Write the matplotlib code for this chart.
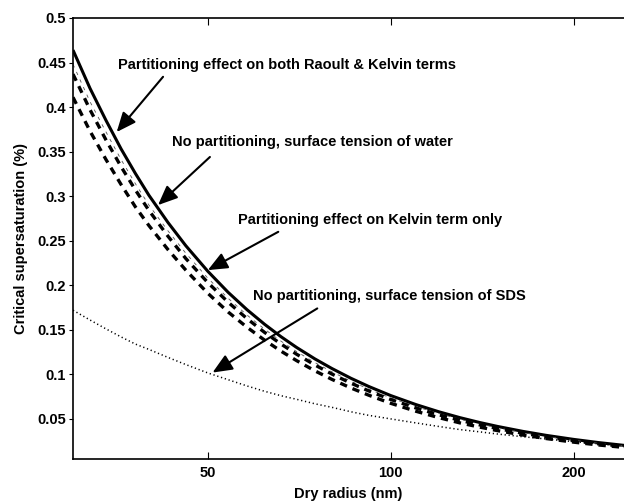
import numpy as np
import matplotlib
matplotlib.use("Agg")
from matplotlib import pyplot as plt
from matplotlib.ticker import FixedLocator, FixedFormatter, NullLocator

plt.rcParams['font.family'] = ['Liberation Sans', 'DejaVu Sans']
plt.rcParams['font.weight'] = 'bold'

# dry radius (nm)
radius = [30, 32, 34, 36, 38, 40, 43, 46, 50, 54, 58, 62, 66, 70, 75, 80, 86, 92,
          100, 110, 120, 130, 140, 150, 165, 180, 200, 220, 242]

# partitioning effect on both Raoult & Kelvin terms
s_both = [0.464, 0.421, 0.385, 0.353, 0.3255, 0.301, 0.2704, 0.2444, 0.2157, 0.1921,
          0.1726, 0.1562, 0.1422, 0.1302, 0.1174, 0.1066, 0.0956, 0.0864, 0.0762,
          0.0661, 0.0580, 0.0514, 0.0460, 0.0415, 0.0360, 0.0316, 0.0270, 0.0234, 0.0203]
# no partitioning, surface tension of water
s_water = [0.448, 0.406, 0.372, 0.341, 0.314, 0.290, 0.261, 0.236, 0.208, 0.1854,
           0.1666, 0.1507, 0.1372, 0.1256, 0.1133, 0.1029, 0.0923, 0.0834, 0.0735,
           0.0638, 0.0560, 0.0496, 0.0444, 0.0400, 0.0347, 0.0305, 0.0261, 0.0226, 0.0196]
# partitioning effect on Kelvin term only
s_kelvin = [0.437, 0.397, 0.363, 0.333, 0.307, 0.284, 0.255, 0.230, 0.203, 0.181,
            0.1626, 0.1471, 0.1340, 0.1226, 0.1106, 0.1004, 0.0901, 0.0814, 0.0718,
            0.0623, 0.0546, 0.0484, 0.0433, 0.0391, 0.0339, 0.0298, 0.0254, 0.0220, 0.0191]
s_kelvin2 = [0.411, 0.373, 0.341, 0.313, 0.288, 0.267, 0.240, 0.217, 0.191, 0.170,
             0.1529, 0.1384, 0.1260, 0.1154, 0.1040, 0.0944, 0.0847, 0.0766, 0.0675,
             0.0586, 0.0514, 0.0455, 0.0408, 0.0368, 0.0319, 0.0280, 0.0239, 0.0207, 0.0180]
# no partitioning, surface tension of SDS
s_sds = [0.172, 0.161, 0.151, 0.142, 0.134, 0.128, 0.119, 0.111, 0.1016, 0.094,
         0.087, 0.081, 0.076, 0.072, 0.067, 0.063, 0.058, 0.054, 0.050,
         0.0455, 0.0415, 0.038, 0.0355, 0.033, 0.030, 0.0275, 0.0245, 0.022, 0.0195]

labels = ["Partitioning effect on both Raoult & Kelvin terms",
          "No partitioning, surface tension of water",
          "Partitioning effect on Kelvin term only",
          "No partitioning, surface tension of SDS"]

yticks = [0.05, 0.1, 0.15, 0.2, 0.25, 0.3, 0.35, 0.4, 0.45, 0.5]
yticklabels = ["0.05", "0.1", "0.15", "0.2", "0.25", "0.3", "0.35", "0.4", "0.45", "0.5"]
xticks = [50, 100, 200]

fig = plt.figure(figsize=(6.24, 5.04), dpi=100)
ax = fig.add_axes([73/624, 45/504, 551/624, 441/504])

ax.plot(radius, s_both, color='black', lw=2.2, solid_capstyle='butt')
ax.plot(radius, s_water, color='#555555', lw=0.6, linestyle=(0, (4, 6)))
ax.plot(radius, s_kelvin, color='black', lw=2.4, linestyle=(0, (2.2, 1.8)))
ax.plot(radius, s_kelvin2, color='black', lw=2.4, linestyle=(0, (2.2, 1.8)))
ax.plot(radius, s_sds, color='black', lw=1.1, linestyle=(0, (0.8, 1.8)))

ax.set_xscale('log')
ax.set_xlim(30, 242)
ax.set_ylim(0.005, 0.5)
ax.xaxis.set_major_locator(FixedLocator(xticks))
ax.xaxis.set_major_formatter(FixedFormatter([str(t) for t in xticks]))
ax.xaxis.set_minor_locator(NullLocator())
ax.set_yticks(yticks)
ax.set_yticklabels(yticklabels)

ax.tick_params(axis='x', direction='in', length=5, width=0.8, top=True, labelsize=10.5, pad=5)
ax.tick_params(axis='y', direction='out', length=3, width=0.8, labelsize=10.5, pad=2)
for sp in ['left', 'bottom', 'top']:
    ax.spines[sp].set_linewidth(1.2)
ax.spines['right'].set_visible(False)

ax.set_xlabel("Dry radius (nm)", fontsize=10.5, fontweight='bold', labelpad=5)
ax.set_ylabel("Critical supersaturation (%)", fontsize=10.5, fontweight='bold', labelpad=7)

# annotations: text anchor, arrow tail, arrow tip
text_pos = [(35.6, 0.447), (43.7, 0.361), (56.1, 0.273), (59.4, 0.188)]
tails = [(42.2, 0.434), (50.4, 0.344), (65.3, 0.260), (75.7, 0.174)]
tips = [(35.4, 0.372), (41.4, 0.290), (50.0, 0.217), (50.9, 0.102)]

for lab, tp, tl, tip in zip(labels, text_pos, tails, tips):
    ax.text(tp[0], tp[1], lab, fontsize=10.5, fontweight='bold', va='center', ha='left')
    ax.annotate('', xy=tip, xytext=tl,
                arrowprops=dict(arrowstyle='-|>,head_length=0.7,head_width=0.3',
                                color='black', lw=1.5, shrinkA=0, shrinkB=0,
                                mutation_scale=17))

fig.savefig("out.png", dpi=100)
